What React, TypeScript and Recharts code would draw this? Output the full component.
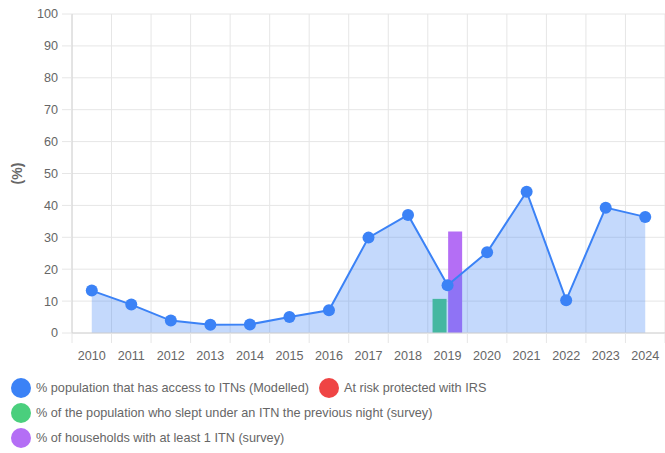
import React from "react";
import { Area, Bar, CartesianGrid, ComposedChart, XAxis, YAxis } from "recharts";

const YEARS = ["2010", "2011", "2012", "2013", "2014", "2015", "2016", "2017", "2018", "2019", "2020", "2021", "2022", "2023", "2024"];
// % population that has access to ITNs (Modelled)
const ACCESS = [13.3, 8.9, 3.9, 2.6, 2.7, 5.0, 7.1, 29.9, 37.0, 15.0, 25.3, 44.3, 10.3, 39.3, 36.4];
// survey points, only 2019 has values
const SLEPT = [null, null, null, null, null, null, null, null, null, 10.7, null, null, null, null, null];
const HOUSEHOLDS = [null, null, null, null, null, null, null, null, null, 31.8, null, null, null, null, null];
const Y_TICKS = [0, 10, 20, 30, 40, 50, 60, 70, 80, 90, 100];

const BLUE = "#3B82F6";
const RED = "#EF4444";
const GREEN = "#4ACF7D";
const PURPLE = "#B46EF5";
const GRID = "#e6e6e6";
const TEXT = "#666";
const FONT = '"Helvetica Neue", Helvetica, Arial, "Liberation Sans", sans-serif';

const LEGEND_ROWS = [
  [
    { label: "% population that has access to ITNs (Modelled)", color: BLUE },
    { label: "At risk protected with IRS", color: RED },
  ],
  [{ label: "% of the population who slept under an ITN the previous night (survey)", color: GREEN }],
  [{ label: "% of households with at least 1 ITN (survey)", color: PURPLE }],
];

const CHART_W = 665;
const CHART_H = 363;
const Y_AXIS_W = 72;
const BAND = (CHART_W - Y_AXIS_W) / YEARS.length;

const data = YEARS.map((year, i) => ({
  year,
  access: ACCESS[i],
  slept: SLEPT[i],
  households: HOUSEHOLDS[i],
}));

// Chart.js-style tick: grid mark on the band boundary, label in the middle
function YearTick(props: any) {
  const { x, y, payload, index } = props;
  const axisY = y - 8;
  const left = x - BAND / 2;
  return (
    <g>
      <line x1={left} x2={left} y1={axisY} y2={axisY + 10} stroke={GRID} />
      {index === YEARS.length - 1 && (
        <line x1={x + BAND / 2} x2={x + BAND / 2} y1={axisY} y2={axisY + 10} stroke={GRID} />
      )}
      <text x={x} y={y + 10} dy="0.71em" textAnchor="middle" fill={TEXT} fontSize={12.6} fontFamily={FONT}>
        {payload.value}
      </text>
    </g>
  );
}

function PercentLabel(props: any) {
  const vb = props.viewBox || { y: 14, height: 319 };
  const cy = vb.y + vb.height / 2;
  return (
    <text
      x={17}
      y={cy}
      transform={`rotate(-90, 17, ${cy})`}
      textAnchor="middle"
      dominantBaseline="central"
      fill={TEXT}
      fontSize={14}
      fontWeight="bold"
      fontFamily={FONT}
    >
      (%)
    </text>
  );
}

function LegendBlock() {
  return (
    <div style={{ position: "absolute", left: 11, top: 375, fontFamily: FONT, fontSize: 12.7, color: TEXT }}>
      {LEGEND_ROWS.map((row, r) => (
        <div key={r} style={{ display: "flex", alignItems: "center", height: 25 }}>
          {row.map((item) => (
            <div key={item.label} style={{ display: "flex", alignItems: "center", marginRight: 10 }}>
              <span
                style={{
                  width: 20,
                  height: 20,
                  borderRadius: "50%",
                  backgroundColor: item.color,
                  display: "inline-block",
                  marginRight: 5,
                }}
              />
              <span>{item.label}</span>
            </div>
          ))}
        </div>
      ))}
    </div>
  );
}

export default function App() {
  return (
    <div style={{ position: "absolute", left: 0, top: 0, width: 665, height: 453, background: "#fff" }}>
      <ComposedChart
        width={CHART_W}
        height={CHART_H}
        data={data}
        margin={{ top: 14, right: 0, bottom: 0, left: 0 }}
        barCategoryGap="12%"
        barGap={1.6}
      >
        <CartesianGrid
          stroke={GRID}
          verticalCoordinatesGenerator={({ offset }: any) =>
            Array.from({ length: YEARS.length + 1 }, (_, i) => offset.left + (i * offset.width) / YEARS.length)
          }
        />
        <XAxis
          dataKey="year"
          height={CHART_H - 14 - 319}
          axisLine={{ stroke: "#d4d4d4" }}
          tickLine={false}
          interval={0}
          tick={<YearTick />}
        />
        <YAxis
          width={Y_AXIS_W}
          domain={[0, 100]}
          ticks={Y_TICKS}
          interval={0}
          axisLine={{ stroke: "#d4d4d4" }}
          tickLine={{ stroke: GRID }}
          tickSize={10}
          tickMargin={4}
          tick={{ fill: TEXT, fontSize: 12.6, fontFamily: FONT }}
          label={<PercentLabel />}
        />
        <Bar dataKey="slept" fill={GREEN} isAnimationActive={false} zIndex={150} />
        <Bar dataKey="households" fill={PURPLE} isAnimationActive={false} zIndex={150} />
        <Area
          type="linear"
          dataKey="access"
          stroke={BLUE}
          strokeWidth={2}
          fill={BLUE}
          fillOpacity={0.3}
          dot={{ r: 6, fill: BLUE, fillOpacity: 1, stroke: "none" }}
          activeDot={false}
          isAnimationActive={false}
          zIndex={350}
        />
      </ComposedChart>
      <LegendBlock />
    </div>
  );
}
